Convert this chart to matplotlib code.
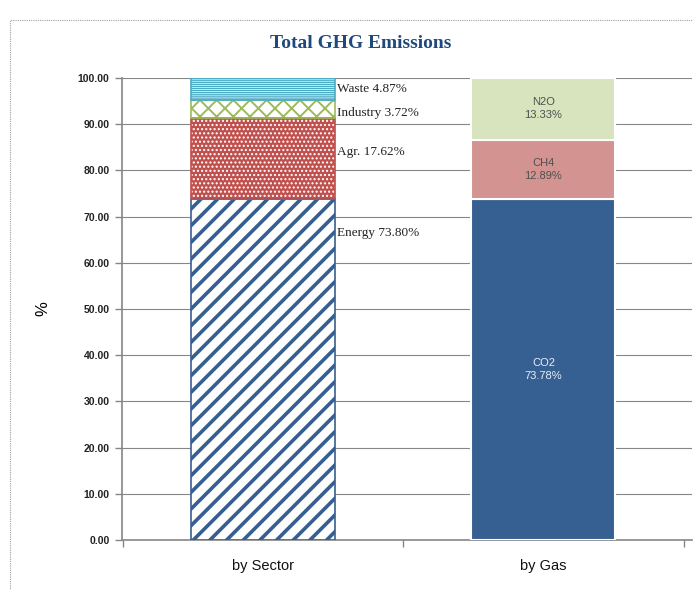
import matplotlib
matplotlib.use("Agg")
import matplotlib.pyplot as plt
from matplotlib.patches import Rectangle

# data
categories = ["by Sector", "by Gas"]

sector_names = ["Energy", "Agr.", "Industry", "Waste"]
sector_values = [73.80, 17.62, 3.72, 4.87]

gas_names = ["CO2", "CH4", "N2O"]
gas_values = [73.78, 12.89, 13.33]

yticks = list(range(0, 101, 10))

narrow = ["Liberation Sans Narrow", "Liberation Sans", "DejaVu Sans"]
serif = ["Liberation Serif", "DejaVu Serif"]

fig = plt.figure(figsize=(6.93, 5.90), dpi=100)
ax = fig.add_axes([122 / 693, 50 / 590, 570 / 693, 462 / 590])

# dotted frame of the chart area
fig.patches.append(Rectangle((10 / 693, -0.05), 1.2, 1 - 20 / 590 + 0.05,
                             transform=fig.transFigure, fill=False,
                             edgecolor="#a0a0a0", linestyle=(0, (1, 1)),
                             linewidth=0.8, clip_on=False))

width = 0.514

# sector bar - patterned segments
sector_styles = [
    dict(face="white", edge="#365F91", hatch="//", hlw=2.6),
    dict(face="#C0504D", edge="white", hatch="....", hlw=1.0),
    dict(face="white", edge="#9BBB59", hatch="xx", hlw=1.4),
    dict(face="white", edge="#4BACC6", hatch="--------", hlw=1.0),
]
border_colors = ["#365F91", "#C0504D", "#9BBB59", "#4BACC6"]

bottom = 0
for val, st, bc in zip(sector_values, sector_styles, border_colors):
    b = ax.bar(0, val, width, bottom=bottom, color=st["face"],
               edgecolor=st["edge"], hatch=st["hatch"], linewidth=0, zorder=3)
    for p in b:
        if hasattr(p, "set_hatch_linewidth"):
            p.set_hatch_linewidth(st["hlw"])
    ax.bar(0, val, width, bottom=bottom, fill=False, edgecolor=bc,
           linewidth=1.2, zorder=4)
    bottom += val

# sector labels to the right of the bar
label_y = [66.5, 84.0, 92.4, 97.6]
for name, val, y in zip(sector_names, sector_values, label_y):
    ax.text(width / 2 + 0.005, y, f"{name} {val:.2f}%", ha="left", va="center",
            fontsize=9.5, family=serif, color="#222222", zorder=5)

# gas bar - solid segments
gas_colors = ["#376092", "#D39391", "#D7E4BD"]
gas_text = ["#E8EEF6", "#505050", "#505050"]
bottom = 0
for name, val, c, tc in zip(gas_names, gas_values, gas_colors, gas_text):
    ax.bar(1, val, width, bottom=bottom, color=c, edgecolor="white",
           linewidth=1.5, zorder=3)
    ax.text(1, bottom + val / 2, f"{name}\n{val:.2f}%", ha="center",
            va="center", fontsize=8, family=narrow, color=tc,
            linespacing=1.4, zorder=5)
    bottom += val

ax.set_xlim(-0.5036, 1.53)
ax.set_ylim(0, 100)
ax.set_yticks(yticks)
ax.set_yticklabels([f"{v:.2f}" for v in yticks], fontsize=7.5,
                   family=narrow, fontweight="bold", color="#222222")
ax.set_xticks([0, 1])
ax.set_xticklabels(categories, fontsize=10.5, family=narrow, color="#111111")
ax.set_xticks([-0.5, 0.5, 1.5], minor=True)
ax.tick_params(axis="x", which="major", length=0, pad=14)
ax.tick_params(axis="x", which="minor", length=5, color="#868686", width=1)
ax.tick_params(axis="y", length=5, color="#868686", width=1, pad=4)

ax.grid(axis="y", color="#868686", linewidth=0.8, zorder=0)
ax.set_axisbelow(True)
for s in ["top", "right"]:
    ax.spines[s].set_visible(False)
for s in ["left", "bottom"]:
    ax.spines[s].set_color("#868686")
    ax.spines[s].set_linewidth(1.2)

ax.set_ylabel("%", fontsize=12, family=narrow, labelpad=20)

fig.text(361 / 693, 1 - 43 / 590, "Total GHG Emissions", ha="center",
         va="center", fontsize=14, fontweight="bold", family=serif,
         color="#1F497D")

fig.savefig("out.png", dpi=100)
